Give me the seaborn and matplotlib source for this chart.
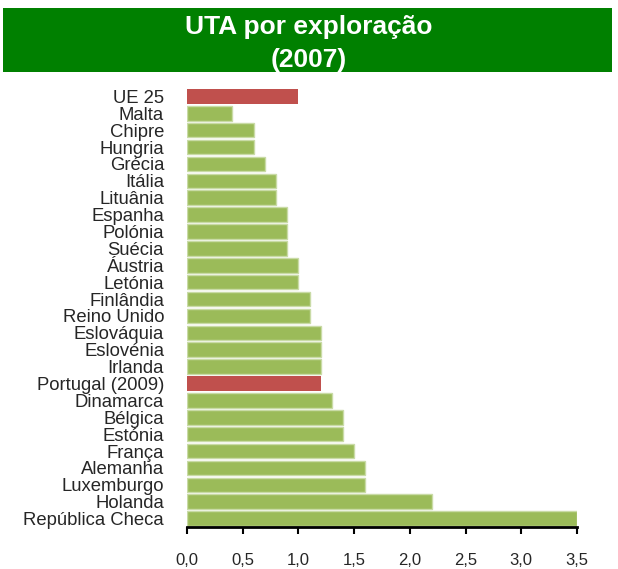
import matplotlib
matplotlib.use("Agg")
import matplotlib.pyplot as plt
from matplotlib.patches import Rectangle
import seaborn as sns
import pandas as pd

paises = ["UE 25", "Malta", "Chipre", "Hungria", "Grécia", "Itália", "Lituânia",
          "Espanha", "Polónia", "Suécia", "Áustria", "Letónia", "Finlândia",
          "Reino Unido", "Eslováquia", "Eslovénia", "Irlanda", "Portugal (2009)",
          "Dinamarca", "Bélgica", "Estónia", "França", "Alemanha", "Luxemburgo",
          "Holanda", "República Checa"]
uta = [1.0, 0.4, 0.6, 0.6, 0.7, 0.8, 0.8,
       0.9, 0.9, 0.9, 1.0, 1.0, 1.1,
       1.1, 1.2, 1.2, 1.2, 1.2,
       1.3, 1.4, 1.4, 1.5, 1.6, 1.6,
       2.2, 3.5]
destaque = ["UE 25", "Portugal (2009)"]
ticks = [0.0, 0.5, 1.0, 1.5, 2.0, 2.5, 3.0, 3.5]
tick_labels = ["0,0", "0,5", "1,0", "1,5", "2,0", "2,5", "3,0", "3,5"]

VERDE = "#9BBB59"
VERMELHO = "#C0504D"

df = pd.DataFrame({"pais": paises, "uta": uta})
cores = {p: (VERMELHO if p in destaque else VERDE) for p in paises}

sns.set_style("white")
plt.rcParams["font.family"] = ["Liberation Sans", "DejaVu Sans"]

fig = plt.figure(figsize=(6.18, 5.69), dpi=100)
ax = fig.add_axes([187 / 618, 1 - 527 / 569, 390 / 618, 439 / 569])

sns.barplot(data=df, x="uta", y="pais", hue="pais", palette=cores,
            order=paises, legend=False, width=0.86, ax=ax, saturation=1)

for patch, p in zip(ax.patches, paises):
    if p not in destaque:
        patch.set_edgecolor("#C9DBA6")
        patch.set_linewidth(1.0)
    else:
        patch.set_edgecolor("none")

ax.set_xlim(0, 3.5)
ax.set_ylim(len(paises) - 0.5, -0.5)
ax.set_xticks(ticks)
ax.set_xticklabels(tick_labels, fontsize=12)
ax.set_yticks(range(len(paises)))
ax.set_yticklabels(paises, fontsize=13.3)
ax.set_xlabel("")
ax.set_ylabel("")

for s in ["top", "right", "left"]:
    ax.spines[s].set_visible(False)
ax.spines["bottom"].set_color("black")
ax.spines["bottom"].set_linewidth(2)
ax.tick_params(axis="x", direction="out", length=5, width=1.5, color="black",
               pad=14, bottom=True)
ax.tick_params(axis="y", length=0, pad=16.5)

# Title banner
fig.patches.append(Rectangle((3 / 618, 1 - 72 / 569), 609 / 618, 64 / 569,
                             transform=fig.transFigure, facecolor="#008000",
                             edgecolor="none", zorder=0))
fig.text(0.5, 1 - 34 / 569, "UTA por exploração", ha="center", va="baseline",
         color="white", fontsize=19, fontweight="bold")
fig.text(0.5, 1 - 67 / 569, "(2007)", ha="center", va="baseline",
         color="white", fontsize=19, fontweight="bold")

fig.savefig("out.png", dpi=100)
